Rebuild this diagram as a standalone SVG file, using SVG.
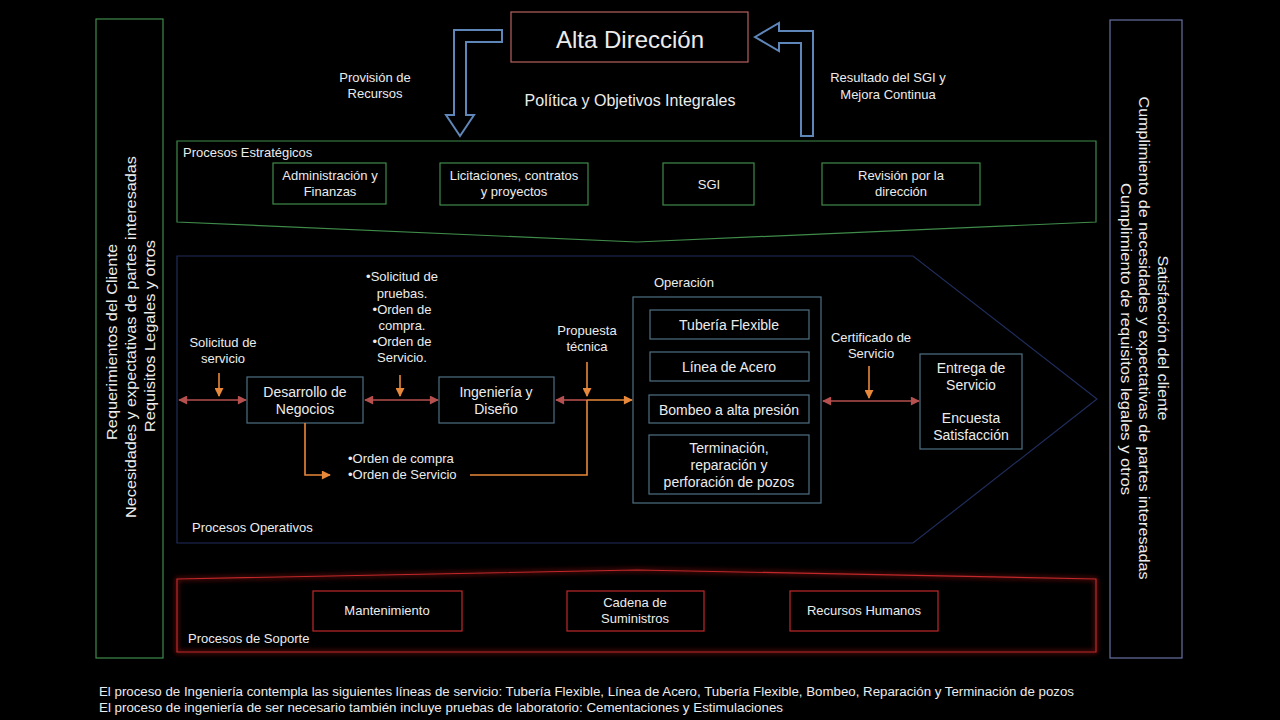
<svg xmlns="http://www.w3.org/2000/svg" width="1280" height="720" viewBox="0 0 1280 720">
<defs>
<style>
text{font-family:"Liberation Sans",Arial,sans-serif;fill:#ececec}
.s12{font-size:13px}
.s13{font-size:13px}
.s14{font-size:14px}
.c{text-anchor:middle}
.gbox{fill:none;stroke:#3f8c4a;stroke-width:1.2}
.obox{fill:none;stroke:#4f7182;stroke-width:1.2}
.rbox{fill:none;stroke:#c0282a;stroke-width:1.2}
.red{stroke:#b5504f;stroke-width:1.6;fill:none}
.org{stroke:#e8883a;stroke-width:1.6;fill:none}
.harrow{fill:none;stroke:#5f86b8;stroke-width:2}
</style>
<marker id="rh" viewBox="0 0 10 10" refX="9" refY="5" markerWidth="10" markerHeight="9" markerUnits="userSpaceOnUse" orient="auto-start-reverse"><path d="M0,0 L10,5 L0,10 z" fill="#b5504f"/></marker>
<marker id="oh" viewBox="0 0 10 10" refX="9" refY="5" markerWidth="10" markerHeight="9" markerUnits="userSpaceOnUse" orient="auto-start-reverse"><path d="M0,0 L10,5 L0,10 z" fill="#e8883a"/></marker>
<filter id="glow" x="-5%" y="-30%" width="110%" height="160%"><feGaussianBlur stdDeviation="2.5"/></filter>
</defs>
<rect width="1280" height="720" fill="#000"/>

<g id="left-panel">
<rect x="96" y="19" width="67" height="639" fill="none" stroke="#3f8c4a" stroke-width="1.2"/>
<text class="c" font-size="15.5" transform="translate(117,342) rotate(-90)" textLength="196" lengthAdjust="spacingAndGlyphs">Requerimientos del Cliente</text>
<text class="c" font-size="15.5" transform="translate(136,337) rotate(-90)" textLength="362" lengthAdjust="spacingAndGlyphs">Necesidades y expectativas de partes interesadas</text>
<text class="c" font-size="15.5" transform="translate(155,336) rotate(-90)" textLength="192" lengthAdjust="spacingAndGlyphs">Requisitos Legales y otros</text>
</g>

<g id="right-panel">
<rect x="1110" y="20" width="72" height="638" fill="none" stroke="#6670a0" stroke-width="1.2"/>
<text class="c" font-size="15.5" transform="translate(1158,338) rotate(90)" textLength="165" lengthAdjust="spacingAndGlyphs">Satisfacción del cliente</text>
<text class="c" font-size="15.5" transform="translate(1139,338) rotate(90)" textLength="483" lengthAdjust="spacingAndGlyphs">Cumplimiento de necesidades y expectativas de partes interesadas</text>
<text class="c" font-size="15.5" transform="translate(1121,339) rotate(90)" textLength="312" lengthAdjust="spacingAndGlyphs">Cumplimiento de requisitos legales  y otros</text>
</g>

<g id="alta-direccion">
<rect x="511" y="12" width="237" height="50" fill="none" stroke="#b86060" stroke-width="1.2"/>
<text class="c" x="630" y="48" font-size="24">Alta Dirección</text>
</g>

<g id="flow-arrows">
<polygon class="harrow" points="502,30 454,30 454,115 446,115 460,136 474,115 466,115 466,42 502,42"/>
<polygon class="harrow" points="755,37 779,23 779,31 813,31 813,136 801,136 801,43 779,43 779,51"/>
</g>

<g id="top-labels">
<text class="c s12" x="375" y="82">Provisión de</text>
<text class="c s12" x="375" y="98">Recursos</text>
<text class="c" font-size="16" x="630" y="106">Política y Objetivos Integrales</text>
<text class="c s12" x="888" y="82">Resultado del SGI y</text>
<text class="c s12" x="888" y="99">Mejora Continua</text>
</g>

<g id="procesos-estrategicos">
<polygon points="177,141 1096,141 1096,222 637,242 177,222" fill="none" stroke="#3f8c4a" stroke-width="1.2"/>
<text class="s12" x="183" y="157">Procesos Estratégicos</text>
</g>
<g id="admin-finanzas">
<rect class="gbox" x="273" y="163" width="113" height="41"/>
<text class="c s12" x="330" y="180">Administración  y</text>
<text class="c s12" x="330" y="196">Finanzas</text>
</g>
<g id="licitaciones">
<rect class="gbox" x="440" y="163" width="148" height="42"/>
<text class="c s12" x="514" y="180">Licitaciones,  contratos</text>
<text class="c s12" x="514" y="196">y proyectos</text>
</g>
<g id="sgi">
<rect class="gbox" x="663" y="163" width="91" height="42"/>
<text class="c s12" x="709" y="189">SGI</text>
</g>
<g id="revision">
<rect class="gbox" x="822" y="163" width="158" height="42"/>
<text class="c s12" x="901" y="180">Revisión por la</text>
<text class="c s12" x="901" y="196">dirección</text>
</g>

<g id="procesos-operativos">
<polygon points="177,256 913,256 1097,399 913,543 177,543" fill="none" stroke="#1f2d5c" stroke-width="1.2"/>
<text class="s12" x="192" y="532">Procesos Operativos</text>
</g>
<g id="desarrollo-negocios">
<rect class="obox" x="247" y="377" width="116" height="46"/>
<text class="c s14" x="305" y="397">Desarrollo de</text>
<text class="c s14" x="305" y="414">Negocios</text>
</g>
<g id="ingenieria-diseno">
<rect class="obox" x="439" y="377" width="115" height="46"/>
<text class="c s14" x="496" y="397">Ingeniería y</text>
<text class="c s14" x="496" y="414">Diseño</text>
</g>
<g id="operacion">
<text class="s12" x="654" y="287">Operación</text>
<rect class="obox" x="633" y="297" width="188" height="206"/>
</g>
<g id="tuberia-flexible">
<rect class="obox" x="650" y="310" width="159" height="29"/>
<text class="c s14" x="729" y="330">Tubería Flexible</text>
</g>
<g id="linea-acero">
<rect class="obox" x="650" y="352" width="159" height="29"/>
<text class="c s14" x="729" y="372">Línea de Acero</text>
</g>
<g id="bombeo">
<rect class="obox" x="649" y="395" width="160" height="28"/>
<text class="c s14" x="729" y="415">Bombeo a alta presión</text>
</g>
<g id="terminacion">
<rect class="obox" x="649" y="435" width="160" height="59"/>
<text class="c s14" x="729" y="453">Terminación,</text>
<text class="c s14" x="729" y="470">reparación y</text>
<text class="c s14" x="729" y="487">perforación de pozos</text>
</g>
<g id="entrega-servicio">
<rect class="obox" x="920" y="354" width="102" height="95"/>
<text class="c s14" x="971" y="373">Entrega de</text>
<text class="c s14" x="971" y="390">Servicio</text>
<text class="c s14" x="971" y="423">Encuesta</text>
<text class="c s14" x="971" y="440">Satisfacción</text>
</g>

<g id="connectors">
<line class="red" x1="179" y1="400" x2="246" y2="400" marker-start="url(#rh)" marker-end="url(#rh)"/>
<line class="org" x1="219" y1="373" x2="219" y2="396" marker-end="url(#oh)"/>
<line class="red" x1="365" y1="400" x2="438" y2="400" marker-start="url(#rh)" marker-end="url(#rh)"/>
<line class="org" x1="400" y1="375" x2="400" y2="396" marker-end="url(#oh)"/>
<line class="red" x1="556" y1="400" x2="587" y2="400" marker-start="url(#rh)"/>
<line class="org" x1="587" y1="400" x2="632" y2="400" marker-end="url(#oh)"/>
<line class="org" x1="587" y1="362" x2="587" y2="396" marker-end="url(#oh)"/>
<polyline class="org" points="305,423 305,475 330,475" marker-end="url(#oh)"/>
<polyline class="org" points="470,475 587,475 587,400"/>
<line class="red" x1="823" y1="401" x2="919" y2="401" marker-start="url(#rh)" marker-end="url(#rh)"/>
<line class="org" x1="869" y1="366" x2="869" y2="398" marker-end="url(#oh)"/>
</g>

<g id="connector-labels">
<text class="c s12" x="223" y="347">Solicitud  de</text>
<text class="c s12" x="223" y="363">servicio</text>
<text class="c s12" x="402" y="281">•Solicitud  de</text>
<text class="c s12" x="402" y="298">pruebas.</text>
<text class="c s12" x="402" y="314">•Orden de</text>
<text class="c s12" x="402" y="330">compra.</text>
<text class="c s12" x="402" y="346">•Orden de</text>
<text class="c s12" x="402" y="362">Servicio.</text>
<text class="c s12" x="587" y="335">Propuesta</text>
<text class="c s12" x="587" y="351">técnica</text>
<text class="s12" x="348" y="463">•Orden de compra</text>
<text class="s12" x="348" y="479">•Orden de Servicio</text>
<text class="c s12" x="871" y="342">Certificado  de</text>
<text class="c s12" x="871" y="358">Servicio</text>
</g>

<g id="procesos-soporte">
<polygon points="177,579 637,570 1096,579 1096,652 177,652" fill="none" stroke="#ff2020" stroke-width="3" opacity="0.4" filter="url(#glow)"/>
<polygon points="177,579 637,570 1096,579 1096,652 177,652" fill="none" stroke="#c0282a" stroke-width="1.2"/>
<text class="s12" x="188" y="643">Procesos de Soporte</text>
</g>
<g id="mantenimiento">
<rect class="rbox" x="313" y="591" width="149" height="40"/>
<text class="c s12" x="387" y="615">Mantenimiento</text>
</g>
<g id="cadena-suministros">
<rect class="rbox" x="567" y="591" width="137" height="40"/>
<text class="c s12" x="635" y="607">Cadena de</text>
<text class="c s12" x="635" y="623">Suministros</text>
</g>
<g id="recursos-humanos">
<rect class="rbox" x="790" y="591" width="148" height="40"/>
<text class="c s12" x="864" y="615">Recursos Humanos</text>
</g>

<g id="footer">
<text font-size="12" x="99" y="696" textLength="975" lengthAdjust="spacingAndGlyphs">El proceso de Ingeniería contempla las siguientes líneas de servicio: Tubería Flexible, Línea de Acero, Tubería Flexible, Bombeo,  Reparación  y Terminación  de pozos</text>
<text font-size="12" x="99" y="712" textLength="684" lengthAdjust="spacingAndGlyphs">El proceso de ingeniería  de ser necesario también  incluye  pruebas de laboratorio: Cementaciones  y Estimulaciones</text>
</g>
</svg>
